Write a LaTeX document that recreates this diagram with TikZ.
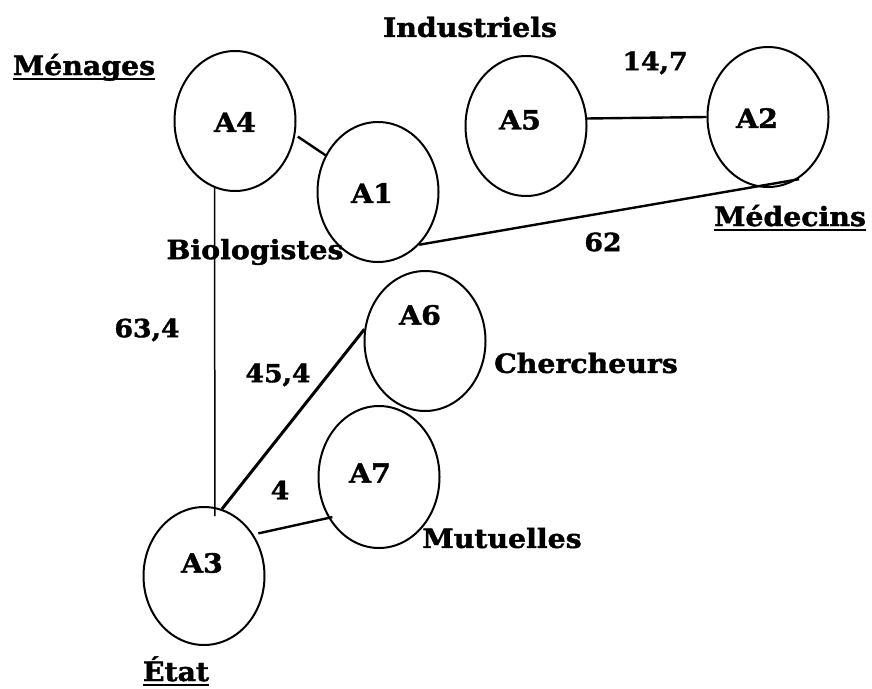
\documentclass[tikz,border=0pt]{standalone}
\usepackage{fontspec}
\setmainfont[FakeStretch=1.07, BoldFeatures={FakeBold=1.5}]{DejaVu Serif}
\usetikzlibrary{shapes.geometric}
\tikzset{
  actor/.style={draw, ellipse, line width=2pt, inner sep=0pt,
                minimum width=121pt, minimum height=140pt},
  tag/.style={inner sep=0pt, font=\fontsize{26.5pt}{30pt}\selectfont\bfseries},
  val/.style={inner sep=0pt, font=\fontsize{25pt}{29pt}\selectfont\bfseries},
  link/.style={line width=2.4pt},
  ul/.style={line width=1.6pt},
}
\begin{document}
\begin{tikzpicture}[x=1pt, y=-1pt]
  \useasboundingbox (0,0) rectangle (872,688);

  % actors
  \node[actor] (a4) at (235,121) {};
  \node[actor] (a1) at (378,192) {};
  \node[actor] (a5) at (526,126) {};
  \node[actor] (a2) at (768,117) {};
  \node[actor] (a6) at (425,341) {};
  \node[actor, minimum height=142pt] (a7) at (379,477) {};
  \node[actor, minimum height=138pt] (a3) at (204,576) {};

  % actor codes
  \node[tag] (a4t) at (235,122) {A4};
  \node[tag] (a1t) at (372,193) {A1};
  \node[tag] (a5t) at (520,120) {A5};
  \node[tag] (a2t) at (757,118) {A2};
  \node[tag] (a6t) at (420,315) {A6};
  \node[tag] (a7t) at (370,473) {A7};
  \node[tag] (a3t) at (202,563) {A3};

  % group names
  \node[tag] (ind) at (470,27) {Industriels};
  \node[tag, anchor=base] (men) at (84,75) {Ménages};
  \node[tag, anchor=base] (med) at (790,226) {Médecins};
  \node[tag] (bio) at (255,252) {Biologistes};
  \node[tag] (che) at (586,363) {Chercheurs};
  \node[tag] (mut) at (502,538) {Mutuelles};
  \node[tag, anchor=base] (eta) at (176,681) {État};
  \draw[ul] ([yshift=-4pt]men.base west) -- ([yshift=-4pt]men.base east);
  \draw[ul] ([yshift=-4pt]med.base west) -- ([yshift=-4pt]med.base east);
  \draw[ul] ([yshift=-4pt]eta.base west) -- ([yshift=-4pt]eta.base east);

  % links
  \draw[link, shorten <=3pt] (a4.-13) -- (a1.145);
  \draw[link] (a5.7.5) -- (a2.west);
  \draw[link, shorten >=-2pt] (a1.-52) -- (a2.-65);
  \draw[line width=1.5pt, shorten >=-9pt] (a4.253) -- (a3.81);
  \draw[line width=3pt] (a3.75) -- (a6.169);
  \draw[link, shorten <=5pt, shorten >=-4pt] (a3.40) -- (a7.219.6);

  % flow values
  \node[val] (v1) at (655,63) {14,7};
  \node[val] (v2) at (603,242) {62};
  \node[val] (v3) at (147,330) {63,4};
  \node[val] (v4) at (278,375) {45,4};
  \node[val] (v5) at (280,490) {4};
\end{tikzpicture}
\end{document}
